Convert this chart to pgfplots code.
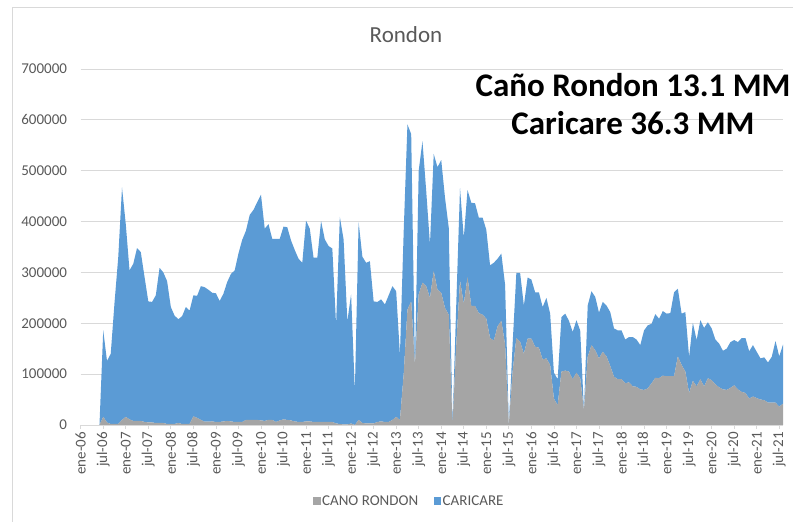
\documentclass[border=0pt]{standalone}
\usepackage{fontspec}
\setmainfont{Carlito}
\usepackage{pgfplots}
\pgfplotsset{compat=1.18}
\usepackage{pgfplotstable}
\definecolor{blueA}{HTML}{5B9BD5}
\definecolor{grayA}{HTML}{A5A5A5}
\definecolor{txt}{HTML}{595959}
\definecolor{gridc}{HTML}{D9D9D9}

\pgfplotstableread{
m g b
5 0 0
6 16000 170000
7 5000 121000
8 2000 138000
9 2000 238000
10 2000 328000
11 10000 457000
12 16000 379000
13 11000 293000
14 8000 309000
15 8000 340000
16 8000 332000
17 6000 285000
18 5000 238000
19 5000 237000
20 4000 251000
21 4000 305000
22 4000 296000
23 2000 281000
24 2000 230000
25 2000 213000
26 4000 204000
27 2000 212000
28 2000 230000
29 2000 223000
30 17000 238000
31 14000 240000
32 10000 263000
33 6500 264500
34 6500 259500
35 7000 253000
36 6000 253000
37 6000 238000
38 7000 251000
39 8000 273000
40 7000 290000
41 6000 298000
42 6000 331000
43 6000 358000
44 10000 372000
45 10000 403000
46 10000 413000
47 10000 428000
48 9000 444000
49 8000 378000
50 10000 385000
51 10000 356000
52 6000 360000
53 9000 357000
54 11000 379000
55 10000 379000
56 9000 354000
57 7000 337000
58 6000 321000
59 6000 313000
60 7000 395000
61 7000 379000
62 6000 323000
63 6000 323000
64 6000 395000
65 6000 359000
66 6000 346000
67 6000 341000
68 3000 194000
69 2000 407000
70 1000 364000
71 1000 203000
72 3000 254000
73 0 66000
74 10000 389000
75 4000 327000
76 3000 316000
77 3000 319000
78 3000 240000
79 6000 236000
80 7000 240000
81 6000 231000
82 6000 249000
83 10000 263000
84 16000 247000
85 10000 128000
86 100000 280000
87 227000 364000
88 243000 329000
89 118000 0
90 257000 243000
91 280000 278000
92 273000 187000
93 250000 105000
94 303000 230000
95 266000 241000
96 260000 261000
97 230000 217000
98 217000 171000
99 0 0
100 158000 79000
101 284000 182000
102 238000 130000
103 291000 171000
104 234000 203000
105 234000 202000
106 220000 188000
107 217000 191000
108 209000 175000
109 171000 143000
110 166000 153000
111 194000 133000
112 205000 132000
113 158000 118000
114 0 0
115 105000 53000
116 171000 128000
117 164000 135000
118 140000 95000
119 170000 120000
120 170000 116000
121 154000 107000
122 152000 109000
123 129000 103000
124 131000 119000
125 118000 101000
126 52000 51000
127 39000 51000
128 105000 107000
129 107000 112000
130 105000 100000
131 90000 93000
132 103000 103000
133 92000 94000
134 29000 0
135 134000 101000
136 157000 106000
137 147000 105000
138 131000 90000
139 144000 98000
140 135000 100000
141 116000 106000
142 95000 95000
143 90000 96000
144 90000 96000
145 82000 86000
146 84000 89000
147 76000 97000
148 75000 93000
149 70000 87000
150 69000 117000
151 72000 124000
152 82000 117000
153 93000 125000
154 92000 117000
155 97000 127000
156 96000 123000
157 96000 124000
158 96000 165000
159 135000 133000
160 118000 101000
161 105000 117000
162 63000 71000
163 87000 114000
164 76000 91000
165 90000 116000
166 76000 115000
167 92000 110000
168 88000 102000
169 80000 88000
170 74000 86000
171 70000 76000
172 69000 81000
173 73000 90000
174 78000 89000
175 70000 93000
176 65000 106000
177 63000 108000
178 52000 93000
179 56000 101000
180 53000 91000
181 50000 81000
182 49000 84000
183 44000 79000
184 44000 90000
185 44000 121000
186 36000 99000
187 42000 116000
}\data

\begin{document}
\begin{tikzpicture}
\path[use as bounding box] (0pt,0pt) rectangle (793pt,522pt);
\draw[gridc, line width=0.8pt] (12pt,0pt) -- (12pt,515pt) -- (793pt,515pt);
\begin{axis}[
  at={(80.7pt,97pt)}, anchor=south west,
  scale only axis, width=702.3pt, height=356pt,
  xmin=0, xmax=187, ymin=0, ymax=700000,
  stack plots=y,
  scaled y ticks=false,
  axis lines=left, axis line style={-},
  x axis line style={draw=gridc, line width=0.8pt},
  y axis line style={draw=none},
  ymajorgrids, grid style={draw=gridc, line width=0.8pt},
  ytick={0,100000,200000,300000,400000,500000,600000,700000},
  yticklabels={0,100000,200000,300000,400000,500000,600000,700000},
  xtick={0,6,...,186},
  xticklabels={ene-06,jul-06,ene-07,jul-07,ene-08,jul-08,ene-09,jul-09,ene-10,jul-10,ene-11,jul-11,ene-12,jul-12,ene-13,jul-13,ene-14,jul-14,ene-15,jul-15,ene-16,jul-16,ene-17,jul-17,ene-18,jul-18,ene-19,jul-19,ene-20,jul-20,ene-21,jul-21},
  tick align=outside, major tick length=4pt,
  xtick style={draw=gridc, line width=0.8pt},
  ytick style={draw=none},
  yticklabel style={font=\fontsize{15}{18}\selectfont, text=txt, inner sep=0pt, anchor=east, xshift=-9.5pt},
  xticklabel style={font=\fontsize{15}{18}\selectfont, text=txt, rotate=90, anchor=east, inner sep=0pt, xshift=-3pt},
  legend style={at={(0.4675,-0.2135)}, anchor=center, draw=none, fill=none,
    legend columns=2, font=\fontsize{15}{18}\selectfont, text=txt,
    nodes={inner sep=1.5pt},
    /tikz/every even column/.append style={column sep=14pt}},
  legend image code/.code={\fill[#1] (0pt,-3.7pt) rectangle (7.5pt,3.7pt);},
  clip=false,
]
\addplot[fill=grayA, draw=none] table[x=m, y=g] {\data} \closedcycle;
\addlegendentry{CANO RONDON}
\addplot[fill=blueA, draw=none] table[x=m, y=b] {\data} \closedcycle;
\addlegendentry{CARICARE}
\end{axis}
\node[text=txt, font=\fontsize{23}{27}\selectfont] at (406pt,487pt) {Rondon};
\node[anchor=base, font=\bfseries\fontsize{33}{40}\selectfont] at (633pt,425pt) {Caño Rondon 13.1 MM};
\node[anchor=base, font=\bfseries\fontsize{33}{40}\selectfont] at (633pt,387pt) {Caricare 36.3 MM};
\end{tikzpicture}
\end{document}
